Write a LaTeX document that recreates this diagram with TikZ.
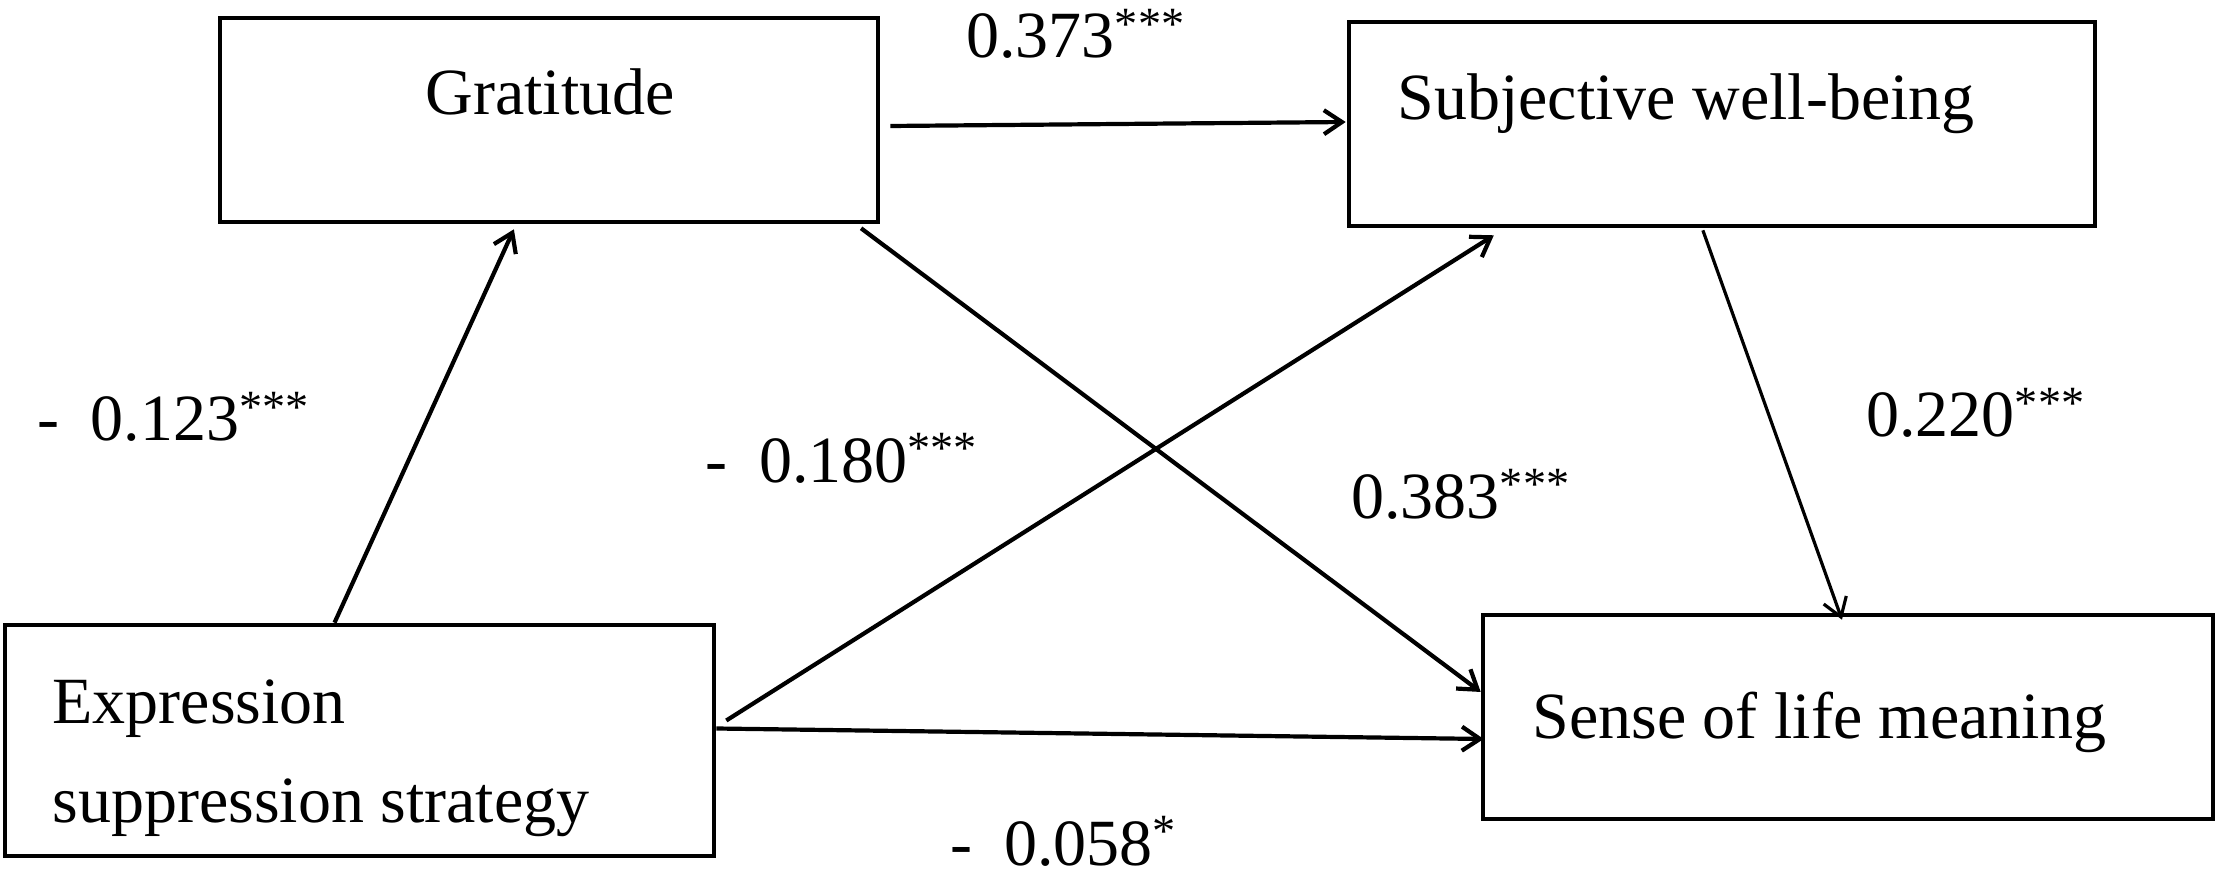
\documentclass[tikz,border=0pt]{standalone}
\usepackage{fontspec}
\setmainfont{Liberation Serif}
\usetikzlibrary{arrows.meta,calc}
\begin{document}
\begin{tikzpicture}[x=0.5pt,y=-0.5pt,
  box/.style={draw,line width=2.3pt,inner sep=0pt},
  txt/.style={inner sep=0pt,anchor=base west,font=\fontsize{33}{40}\selectfont},
  ctxt/.style={inner sep=0pt,anchor=base,font=\fontsize{33}{40}\selectfont},
  conn/.style={line width=2.1pt,-{Straight Barb[length=9pt,width=12pt]}},
  thinconn/.style={line width=1.6pt,-{Straight Barb[length=9pt,width=12pt]}},
]
\useasboundingbox (0,0) rectangle (2217,887);
% boxes
\node[box,minimum width=329pt,minimum height=102pt] (gr) at (549,120) {};
\node[box,minimum width=373pt,minimum height=102pt] (sw) at (1722,124) {};
\node[box,minimum width=354.5pt,minimum height=115.5pt] (ex) at (359.5,740.5) {};
\node[box,minimum width=365pt,minimum height=102pt] (se) at (1848,717) {};
% box texts
\node[ctxt] (grt) at (550,115) {Gratitude};
\node[txt] (swt) at (1397,120) {Subjective well-being};
\node[txt] (ext1) at (52,723) {Expression};
\node[txt] (ext2) at (52,822) {suppression strategy};
\node[txt] (set) at (1532,738) {Sense of life meaning};
% coefficient labels
\node[txt] (l1) at (37,441) {-\hspace{0.48em}0.123\textsuperscript{***}};
\node[txt] (l2) at (966,58) {0.373\textsuperscript{***}};
\node[txt] (l3) at (705,482) {-\hspace{0.48em}0.180\textsuperscript{***}};
\node[txt] (l4) at (1351,518) {0.383\textsuperscript{***}};
\node[txt] (l5) at (1866,437) {0.220\textsuperscript{***}};
\node[txt] (l6) at (950,865) {-\hspace{0.48em}0.058\textsuperscript{*}};
% connectors
\draw[conn] ($(ex.north west)!0.465!(ex.north east)$) -- ($(gr.south west)!0.447!(gr.south east)+(0,5)$);
\draw[conn] ($(gr.east)+(10,6)$) -- ($(sw.west)+(-1,-2)$);
\draw[conn] ($(gr.south west)!0.971!(gr.south east)+(0,4)$) -- ($(se.north west)!0.38!(se.south west)$);
\draw[conn] ($(ex.east)+(10,-20)$) -- ($(sw.south west)!0.196!(sw.south east)+(0,7)$);
\draw[conn] ($(ex.east)+(0,-12)$) -- ($(se.west)+(3,22)$);
\draw[thinconn] ($(sw.south west)!0.4745!(sw.south east)+(0,2)$) -- ($(se.north west)!0.4918!(se.north east)+(0,7)$);
\end{tikzpicture}
\end{document}
